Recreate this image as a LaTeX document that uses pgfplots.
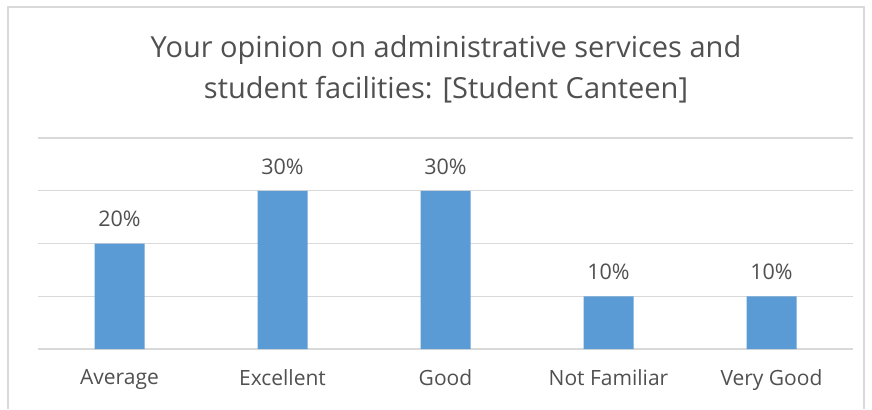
\documentclass[border=0pt]{standalone}
\usepackage{pgfplots}
\pgfplotsset{compat=1.18}
\usepackage{fontspec}
\setmainfont{Open Sans}
\definecolor{barblue}{HTML}{5B9BD5}
\definecolor{gridgray}{HTML}{D9D9D9}
\definecolor{txtgray}{HTML}{505050}
\begin{document}
\begin{tikzpicture}[x=1pt,y=1pt]
  \begin{axis}[
    name=ax,
    at={(0,0)}, anchor=south west,
    scale only axis,
    width=815pt, height=211pt,
    ybar,
    bar width=50pt,
    xmin=-0.5, xmax=4.5,
    ymin=0, ymax=40,
    xtick=data,
    xticklabels={Average, Excellent, Good, Not Familiar, Very Good},
    ytick={0,10,20,30,40},
    yticklabels={},
    axis line style={draw=none},
    major tick length=0pt,
    ymajorgrids=true,
    grid style={gridgray, line width=1.2pt},
    xticklabel style={txtgray, font=\fontsize{21}{24}\selectfont, yshift=-17pt},
    /pgf/number format/assume math mode=true,
    nodes near coords={\pgfmathprintnumber{\pgfplotspointmeta}\%},
    every node near coord/.append style={txtgray, font=\fontsize{21.5}{24}\selectfont, yshift=13pt},
  ]
    \addplot[fill=barblue, draw=none] coordinates {(0,20) (1,30) (2,30) (3,10) (4,10)};
  \end{axis}
  % picture origin = lower left corner of the 872 x 409 image
  \path (ax.south west) ++(-38,-60) coordinate (O);
  \path (O) rectangle ++(872,409);
  % chart frame (its bottom edge lies outside the crop)
  \draw[gridgray, line width=1.2pt] ([xshift=8pt]O) -- ++(0,402) -- ++(856,0) -- ++(0,-402);
  \node[txtgray, font=\fontsize{29}{41}\selectfont, align=center] at ([shift={(446pt,340pt)}]O)
    {Your opinion on administrative services and\\student facilities: [Student Canteen]};
\end{tikzpicture}
\end{document}
